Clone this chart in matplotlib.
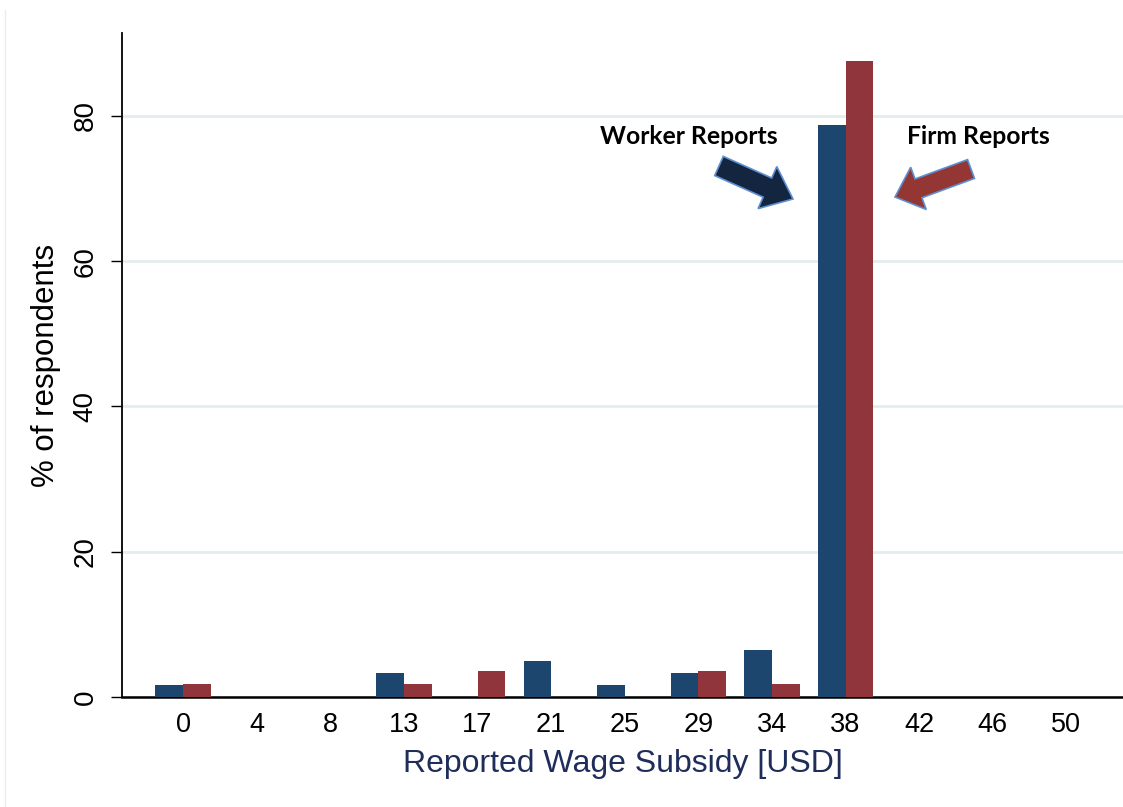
import numpy as np
import matplotlib
matplotlib.use("Agg")
from matplotlib import pyplot as plt
from matplotlib.patches import FancyArrow
from matplotlib.lines import Line2D

# data
subsidy = ["0", "4", "8", "13", "17", "21", "25", "29", "34", "38", "42", "46", "50"]
worker = [1.7, 0, 0, 3.3, 0, 4.9, 1.7, 3.3, 6.5, 78.7, 0, 0, 0]
firm = [1.8, 0, 0, 1.8, 3.6, 0, 0, 3.6, 1.8, 87.5, 0, 0, 0]

c_worker = "#1c466d"
c_firm = "#8f353b"

plt.rcParams['font.family'] = ['Liberation Sans', 'DejaVu Sans']

fig = plt.figure(figsize=(11.23, 8.07), dpi=100)
ax = fig.add_axes([122/1123, 1-697/807, 1-122/1123, (697-33)/807])

x = np.arange(len(subsidy))
w = 0.375
ax.bar(x - w/2, worker, width=w, color=c_worker, zorder=3)
ax.bar(x + w/2, firm, width=w, color=c_firm, zorder=3)

ax.set_xlim(-0.83, 12.77)
ax.set_ylim(0, 91.4)
ax.set_xticks(x)
ax.set_xticklabels(subsidy)
ax.set_yticks([0, 20, 40, 60, 80])
ax.tick_params(axis='x', length=0, pad=11, labelsize=19.5)
ax.tick_params(axis='y', length=8, width=1, pad=9, labelsize=20, labelrotation=90)
for lab in ax.get_yticklabels():
    lab.set_verticalalignment('center')
ax.grid(axis='y', color='#e4ecef', linewidth=2, zorder=0)
ax.spines['top'].set_visible(False)
ax.spines['right'].set_visible(False)
ax.spines['left'].set_linewidth(1.3)
ax.spines['bottom'].set_linewidth(1.8)

ax.set_xlabel("Reported Wage Subsidy [USD]", fontsize=23, color="#1f2d5a", labelpad=8)
ax.set_ylabel("% of respondents", fontsize=22.5, labelpad=8)

# annotations with block arrows (in inches)
lab_font = ['Lato', 'DejaVu Sans']
fig.text(689/1123, 1-137/807, "Worker Reports", fontsize=17.8, fontweight='bold',
         family=lab_font, ha='center', va='center')
fig.text(978/1123, 1-137/807, "Firm Reports", fontsize=17.8, fontweight='bold',
         family=lab_font, ha='center', va='center')

t = fig.dpi_scale_trans
fig.patches.append(FancyArrow(7.19, 6.41, 0.74, -0.33, width=0.21, head_width=0.46,
                              head_length=0.28, length_includes_head=True,
                              facecolor="#13253f", edgecolor="#5d8fcf", linewidth=1.2,
                              transform=t, figure=fig))
fig.patches.append(FancyArrow(9.71, 6.38, -0.76, -0.28, width=0.20, head_width=0.45,
                              head_length=0.25, length_includes_head=True,
                              facecolor="#943634", edgecolor="#5d8fcf", linewidth=1.2,
                              transform=t, figure=fig))

# faint page border on the left
fig.add_artist(Line2D([5/1123, 5/1123], [0, 1-10/807], color="#e8eced", linewidth=1,
                      transform=fig.transFigure))

fig.savefig("out.png", dpi=100)
